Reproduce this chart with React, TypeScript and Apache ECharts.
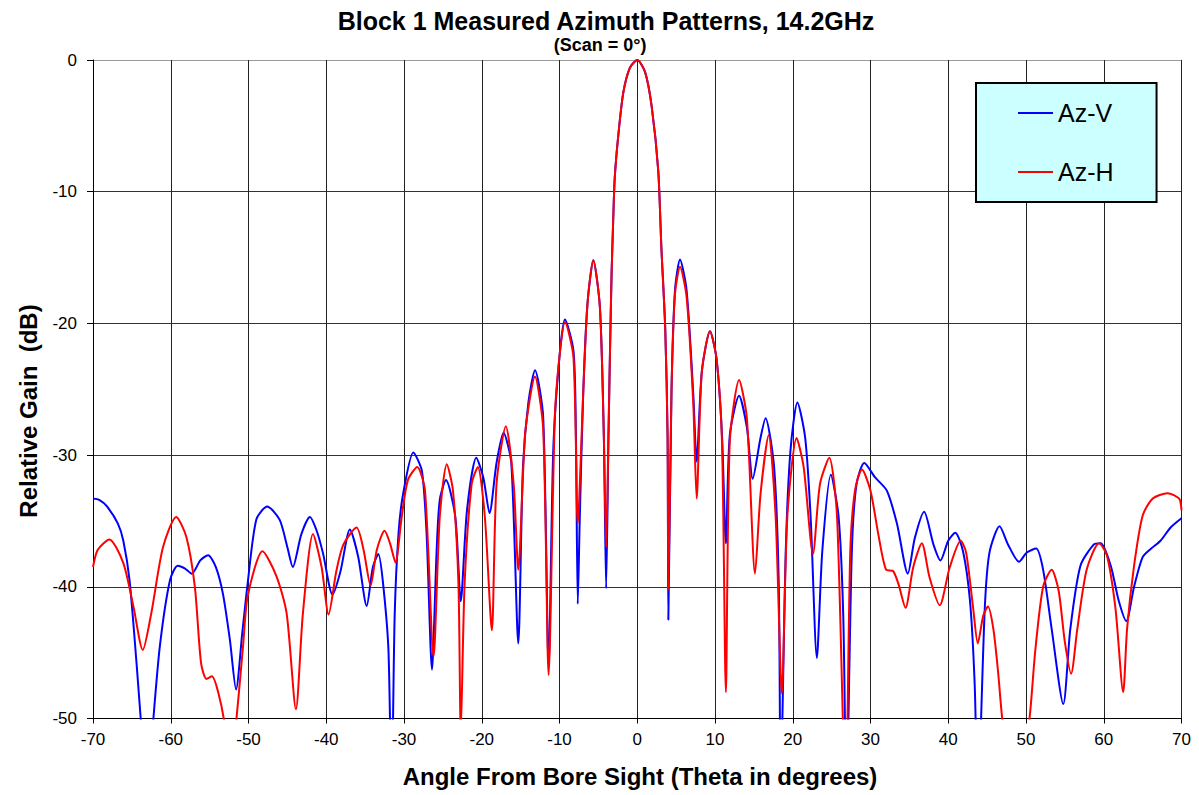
import React, { useEffect, useRef } from 'react';
import * as echarts from 'echarts';

const titleText = 'Block 1 Measured Azimuth Patterns, 14.2GHz';
const subtitleText = '(Scan = 0°)';
const xAxisTitle = 'Angle From Bore Sight (Theta in degrees)';
const yAxisTitle = 'Relative Gain  (dB)';
const seriesNames = ['Az-V', 'Az-H'];
const seriesColors = ['#0000FF', '#FF0000'];

const azVAngle = [
  -70, -69.2, -68.2, -66.8, -66.1, -65.3, -64.4, -63.8, -63.0, -62.3,
  -61.4, -60.1, -59.1, -58.2, -57.3, -56.2, -55.2, -54.2, -53.3, -52.4,
  -51.6, -50.8, -50.1, -49.0, -47.6, -46.0, -45.0, -44.3, -43.2, -42.1,
  -41.2, -40.4, -39.2, -38.2, -36.96, -35.9, -34.8, -34.0, -33.3, -32.7,
  -32.0, -31.6, -31.2, -30.7, -30.1, -28.8, -27.7, -27.1, -26.4, -25.8,
  -25.4, -24.6, -23.4, -22.7, -21.9, -20.7, -19.8, -19.0, -18.1, -17.2,
  -16.2, -15.3, -14.7, -14.0, -13.15, -12.1, -11.4, -10.8, -10.0, -9.3,
  -8.2, -7.9, -7.65, -7.4, -6.95, -6.4, -5.65, -4.8, -4.3, -4.0,
  -3.7, -3.5, -3.3, -3.1, -2.9, -2.45, -1.8, -0.95, 0, 1.0,
  1.85, 2.7, 3.1, 3.6, 3.9, 4.0, 4.4, 4.85, 5.5, 6.35,
  7.2, 7.64, 8.3, 9.36, 10.2, 10.9, 11.4, 11.9, 13.1, 14.1,
  14.85, 15.85, 16.5, 17.6, 18.2, 18.45, 19.1, 19.7, 20.6, 21.6,
  22.3, 23.1, 23.8, 24.9, 25.9, 26.5, 26.9, 27.6, 28.2, 29.2,
  30.6, 32.1, 33.4, 34.8, 35.7, 36.9, 38.1, 39.0, 40.0, 40.9,
  41.9, 42.8, 43.4, 43.8, 44.7, 45.3, 46.6, 47.7, 49.1, 50.1,
  51.3, 52.2, 53.3, 54.8, 55.7, 57.0, 58.7, 59.6, 60.9, 61.9,
  62.9, 63.9, 65.0, 66.1, 67.3, 68.6, 70,
];
const azVGain = [
  -33.3, -33.4, -33.9, -35.2, -36.5, -39.5, -45.8, -50.5, -56, -50.5,
  -44.5, -39.5, -38.4, -38.6, -39.0, -38.0, -37.6, -38.5, -40.5, -44.0,
  -47.8, -43.5, -39.7, -34.9, -33.9, -34.9, -37.0, -38.5, -36.0, -34.7,
  -35.8, -37.5, -40.6, -38.9, -35.65, -37.7, -41.45, -38.5, -37.5, -39.7,
  -44.8, -56, -42.2, -35.9, -32.9, -29.8, -31.2, -35.9, -46.3, -37.2,
  -33.4, -31.9, -34.7, -41.1, -34.2, -30.2, -31.7, -34.4, -30.6, -28.3,
  -30.6, -44.3, -30.9, -26.0, -23.55, -27.1, -46.0, -29.6, -22.5, -19.7,
  -22.1, -28.0, -41.3, -35.0, -25.3, -18.5, -15.2, -18.8, -28.5, -40.1,
  -28.5, -22.0, -16.2, -12.3, -9.0, -5.8, -2.5, -0.6, 0, -0.9,
  -3.5, -8.4, -14.2, -20.4, -28.5, -42.5, -25.3, -17.5, -15.15, -17.5,
  -25.3, -30.5, -23.7, -20.6, -22.7, -28.5, -36.7, -28.5, -25.5, -27.9,
  -31.8, -28.7, -27.2, -30.9, -39.8, -55, -37.3, -29.7, -26.0, -28.7,
  -34.7, -45.4, -37.3, -31.5, -34.7, -42.3, -56, -37.3, -32.2, -30.6,
  -31.7, -32.7, -35.2, -39.0, -36.3, -34.3, -36.8, -38.0, -36.5, -35.9,
  -37.3, -41.1, -47.4, -56, -41.6, -37.4, -35.4, -36.8, -38.1, -37.4,
  -37.1, -38.7, -43.2, -48.9, -43.2, -38.4, -36.8, -36.7, -38.4, -41.0,
  -42.6, -40.0, -37.75, -37.1, -36.5, -35.5, -34.8,
];

const azHAngle = [
  -70, -69.4, -67.9, -66.1, -64.8, -63.6, -62.5, -61.0, -59.3, -58.0,
  -56.9, -56.1, -55.4, -54.7, -53.9, -53.1, -52.4, -51.6, -50.7, -50.1,
  -48.2, -46.4, -45.1, -43.9, -43.0, -41.7, -40.6, -39.7, -38.7, -37.8,
  -36.1, -35.2, -34.3, -33.5, -32.5, -31.8, -31.1, -30.3, -29.5, -28.3,
  -27.3, -26.2, -25.4, -24.5, -23.7, -23.0, -22.7, -22.2, -21.3, -20.5,
  -19.6, -18.7, -18.1, -16.9, -15.9, -15.3, -14.4, -13.15, -12.1, -11.4,
  -10.6, -10.0, -9.3, -8.2, -7.65, -6.95, -6.4, -5.65, -4.8, -4.3,
  -4.0, -3.7, -3.5, -3.3, -3.1, -2.9, -2.45, -1.8, -0.95, 0,
  1.0, 1.85, 2.7, 3.1, 3.6, 3.9, 4.0, 4.4, 4.85, 5.5,
  6.35, 7.2, 7.64, 8.3, 9.36, 10.2, 10.9, 11.4, 11.9, 13.1,
  14.1, 15.15, 15.85, 16.9, 17.8, 18.6, 19.3, 20.5, 21.4, 22.6,
  23.5, 24.7, 25.7, 26.8, 27.4, 28.0, 28.9, 30.0, 31.0, 32.0,
  32.9, 33.6, 34.5, 35.5, 36.6, 37.6, 38.9, 40.2, 41.6, 42.3,
  43.2, 43.8, 44.5, 45.1, 45.8, 46.4, 47.0, 48.7, 50.4, 51.2,
  52.2, 53.3, 54.2, 55.0, 55.8, 56.6, 57.8, 59.4, 60.4, 61.5,
  62.5, 63.0, 63.9, 65.0, 66.3, 68.2, 69.7, 70,
];
const azHGain = [
  -38.5, -37.2, -36.4, -38.2, -41.5, -44.8, -42.0, -37.0, -34.7, -36.2,
  -40.0, -45.8, -47.0, -46.8, -48.0, -50.3, -54, -50.3, -44.5, -40.7,
  -37.3, -39.2, -42.0, -49.3, -42.0, -36.0, -38.5, -42.1, -38.8, -36.8,
  -35.5, -37.2, -39.9, -37.2, -35.75, -36.7, -38.15, -34.7, -31.9, -30.9,
  -32.7, -45.3, -34.7, -30.7, -32.7, -39.7, -51, -39.7, -32.2, -30.9,
  -34.7, -43.3, -32.2, -27.8, -32.2, -38.7, -28.3, -24.05, -28.0, -46.7,
  -27.1, -22.5, -19.9, -22.6, -35.2, -25.3, -18.5, -15.2, -18.8, -28.5,
  -37.0, -28.5, -22.0, -16.2, -12.3, -9.0, -5.8, -2.5, -0.6, 0,
  -0.9, -3.5, -8.4, -14.2, -20.4, -28.5, -40.2, -25.3, -17.8, -15.7,
  -18.0, -26.0, -33.3, -23.7, -20.6, -22.7, -29.0, -48.0, -29.0, -24.3,
  -27.2, -39.0, -33.0, -28.5, -34.7, -48.1, -34.7, -28.7, -30.9, -37.5,
  -32.2, -30.2, -34.7, -56, -37.3, -32.7, -31.1, -32.7, -36.0, -38.7,
  -38.8, -39.8, -41.6, -38.5, -36.7, -39.3, -41.4, -38.5, -36.5, -37.4,
  -41.6, -44.3, -42.2, -41.5, -43.2, -46.4, -50.3, -57, -50.3, -44.8,
  -40.0, -38.7, -40.3, -44.2, -46.6, -43.2, -38.7, -36.7, -37.6, -41.6,
  -48.0, -43.2, -38.4, -34.6, -33.3, -32.9, -33.3, -34.2,
];

const FONT = '"Liberation Sans", Arial, Helvetica, sans-serif';

export default function App() {
  const ref = useRef<HTMLDivElement>(null);

  useEffect(() => {
    if (!ref.current) return;
    const chart = echarts.init(ref.current, null, { renderer: 'svg' });
    const zip = (a: number[], g: number[]) => a.map((x, i) => [x, g[i]]);

    const textStyleBase = {
      fontFamily: FONT,
      fill: '#000',
      textAlign: 'center',
      textVerticalAlign: 'middle',
      align: 'center',
      verticalAlign: 'middle',
    };

    chart.setOption({
      animation: false,
      backgroundColor: '#ffffff',
      textStyle: { fontFamily: FONT },
      grid: { left: 93, top: 60, width: 1088.5, height: 658.5, containLabel: false },
      xAxis: {
        type: 'value',
        min: -70,
        max: 70,
        interval: 10,
        axisLine: { show: true, onZero: false, lineStyle: { color: '#000', width: 1 } },
        axisTick: { show: true, length: 5, lineStyle: { color: '#000' } },
        axisLabel: { fontSize: 17, color: '#000', margin: 12, fontFamily: FONT },
        splitLine: { show: true, lineStyle: { color: '#222', width: 1 } },
      },
      yAxis: {
        type: 'value',
        min: -50,
        max: 0,
        interval: 10,
        axisLine: { show: true, onZero: false, lineStyle: { color: '#000', width: 1 } },
        axisTick: { show: true, length: 6, lineStyle: { color: '#000' } },
        axisLabel: { fontSize: 17, color: '#000', margin: 16, fontFamily: FONT },
        splitLine: {
          show: true,
          lineStyle: { color: ['#333', '#333', '#333', '#333', '#333', '#999'], width: 1 },
        },
      },
      legend: {
        orient: 'vertical',
        left: 976,
        top: 83,
        padding: [17, 43, 17, 42],
        itemGap: 33,
        itemWidth: 35,
        itemHeight: 2,
        icon: 'rect',
        backgroundColor: '#CCFFFF',
        borderColor: '#000',
        borderWidth: 2,
        data: seriesNames,
        textStyle: { fontSize: 25, lineHeight: 26, color: '#000', fontFamily: FONT },
      },
      graphic: [
        {
          type: 'text',
          x: 606,
          y: 21,
          style: { ...textStyleBase, text: titleText, fontSize: 25, fontWeight: 'bold' },
        },
        {
          type: 'text',
          x: 600,
          y: 45,
          style: { ...textStyleBase, text: subtitleText, fontSize: 18, fontWeight: 'bold' },
        },
        {
          type: 'text',
          x: 640,
          y: 776,
          style: { ...textStyleBase, text: xAxisTitle, fontSize: 24, fontWeight: 'bold' },
        },
        {
          type: 'text',
          x: 28,
          y: 411,
          rotation: Math.PI / 2,
          style: { ...textStyleBase, text: yAxisTitle, fontSize: 24, fontWeight: 'bold' },
        },
      ],
      series: [
        {
          name: seriesNames[0],
          type: 'line',
          data: zip(azVAngle, azVGain),
          symbol: 'none',
          smooth: 0.25,
          clip: true,
          color: seriesColors[0],
          lineStyle: { color: seriesColors[0], width: 2 },
          z: 2,
        },
        {
          name: seriesNames[1],
          type: 'line',
          data: zip(azHAngle, azHGain),
          symbol: 'none',
          smooth: 0.25,
          clip: true,
          color: seriesColors[1],
          lineStyle: { color: seriesColors[1], width: 2 },
          z: 3,
        },
      ],
    });

    return () => chart.dispose();
  }, []);

  return (
    <div
      ref={ref}
      style={{ position: 'absolute', left: 0, top: 0, width: 1199, height: 795, background: '#fff' }}
    />
  );
}
